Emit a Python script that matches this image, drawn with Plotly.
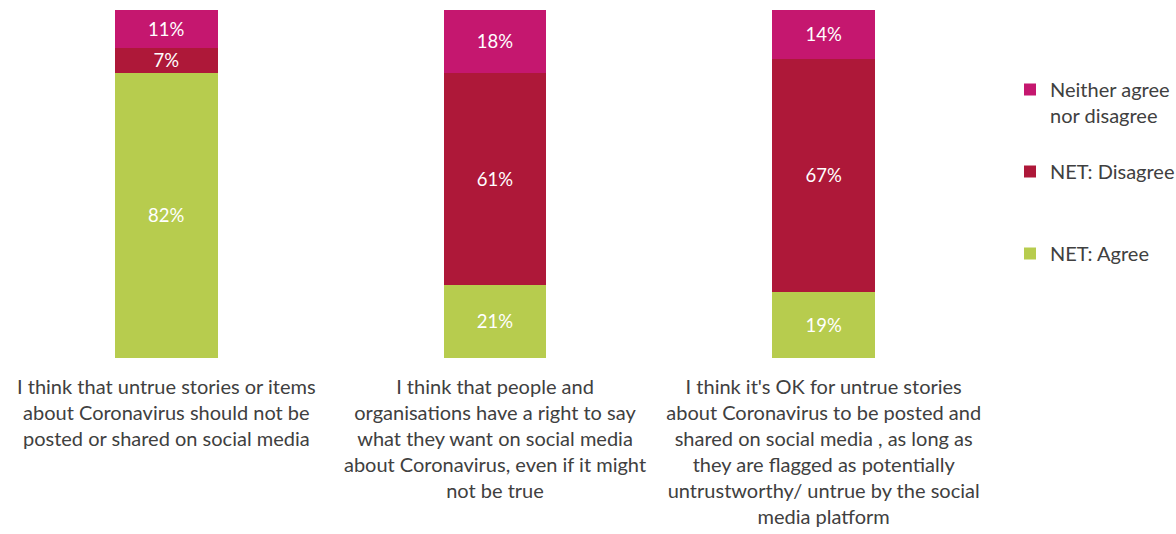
import plotly.graph_objects as go

categories = [
    "I think that untrue stories or items<br>about Coronavirus should not be<br>posted or shared on social media",
    "I think that people and<br>organisations have a right to say<br>what they want on social media<br>about Coronavirus, even if it might<br>not be true",
    "I think it's OK for untrue stories<br>about Coronavirus to be posted and<br>shared on social media , as long as<br>they are flagged as potentially<br>untrustworthy/ untrue by the social<br>media platform",
]
agree = [82, 21, 19]
disagree = [7, 61, 67]
neither = [11, 18, 14]

series = [
    ("NET: Agree", agree, "#B7CC4E", "legend3"),
    ("NET: Disagree", disagree, "#AE1839", "legend2"),
    ("Neither agree<br>nor disagree", neither, "#C5176F", "legend"),
]

FONT = "Lato"
TEXT_COLOR = "#404040"
W, H = 1176, 534

fig = go.Figure()
for name, vals, color, leg in series:
    fig.add_trace(go.Bar(
        x=categories, y=vals, name=name,
        marker=dict(color=color, line=dict(width=0)),
        width=0.313,
        text=[f"{v}%" for v in vals],
        textposition="inside", insidetextanchor="middle",
        constraintext="none",
        textfont=dict(color="white", size=18.5, family=FONT),
        legend=leg,
    ))

def legend_at(px_x, px_y):
    return dict(
        x=px_x / W, y=1 - px_y / H, xref="container", yref="container",
        xanchor="left", yanchor="top", valign="top",
        bgcolor="rgba(0,0,0,0)", borderwidth=0,
        font=dict(family=FONT, size=20, color=TEXT_COLOR),
    )

fig.update_layout(
    width=W, height=H,
    barmode="stack",
    plot_bgcolor="white", paper_bgcolor="white",
    margin=dict(l=2, r=188, t=10, b=176),
    showlegend=True,
    legend=legend_at(1010, 70),
    legend2=legend_at(1010, 152),
    legend3=legend_at(1010, 234),
    xaxis=dict(
        showline=False, showgrid=False, zeroline=False, ticks="",
        tickfont=dict(family=FONT, size=20, color=TEXT_COLOR),
        ticklabelstandoff=15,
    ),
    yaxis=dict(range=[0, 100], visible=False, showgrid=False),
)

fig.write_html("out.html")
